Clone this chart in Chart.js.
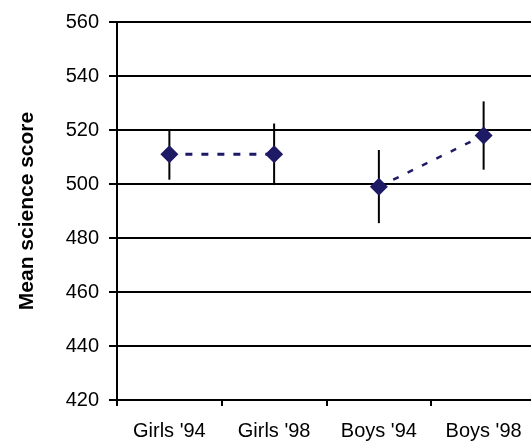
<!DOCTYPE html>
<html>
<head>
<meta charset="utf-8">
<script src="https://cdn.jsdelivr.net/npm/chart.js@4/dist/chart.umd.min.js"></script>
<style>
  html, body { margin: 0; padding: 0; background: #fff; overflow: hidden; }
  #wrap { width: 531px; height: 441px; overflow: hidden; }
  canvas { display: block; }
</style>
</head>
<body>
<div id="wrap"><canvas id="c" width="545" height="441"></canvas></div>
<script>
// Mean science scores by group and year
const categories = ["Girls '94", "Girls '98", "Boys '94", "Boys '98"];
const girlsMeans = [511, 511, null, null];
const boysMeans = [null, null, 499, 518];
// Confidence-interval ends for each group
const lowerBounds = [501.6, 499.6, 485.5, 505.3];
const upperBounds = [520, 522.4, 512.6, 530.6];
const yTicks = [420, 440, 460, 480, 500, 520, 540, 560];

const navy = '#1f1a66';
const font = "'Liberation Sans', Arial, sans-serif";

// Vertical error bars drawn under the markers
const errorBars = {
  id: 'errorBars',
  beforeDatasetsDraw(chart) {
    const { ctx, scales: { x, y } } = chart;
    ctx.save();
    ctx.strokeStyle = '#000';
    ctx.lineWidth = 2;
    categories.forEach((_, i) => {
      const px = x.getPixelForValue(i);
      ctx.beginPath();
      ctx.moveTo(px, y.getPixelForValue(lowerBounds[i]));
      ctx.lineTo(px, y.getPixelForValue(upperBounds[i]));
      ctx.stroke();
    });
    ctx.restore();
  }
};

new Chart(document.getElementById('c'), {
  type: 'line',
  data: {
    labels: categories,
    datasets: [
      {
        data: girlsMeans,
        borderColor: navy,
        backgroundColor: navy,
        borderWidth: 3,
        borderDash: [7, 9],
        pointStyle: 'rectRot',
        pointRadius: 9,
        pointBorderWidth: 0,
        spanGaps: false
      },
      {
        data: boysMeans,
        borderColor: navy,
        backgroundColor: navy,
        borderWidth: 2.5,
        borderDash: [6, 10],
        pointStyle: 'rectRot',
        pointRadius: 9,
        pointBorderWidth: 0,
        spanGaps: false
      }
    ]
  },
  options: {
    responsive: false,
    animation: false,
    layout: { padding: { top: 20, right: 4, left: 0, bottom: 0 } },
    plugins: { legend: { display: false }, tooltip: { enabled: false } },
    scales: {
      x: {
        type: 'category',
        offset: true,
        grid: {
          offset: true,
          drawOnChartArea: false,
          drawTicks: true,
          tickLength: 6,
          color: '#000',
          lineWidth: 2
        },
        border: { display: true, color: '#000', width: 2 },
        ticks: {
          color: '#000',
          font: { family: font, size: 20 },
          padding: 13,
          maxRotation: 0,
          autoSkip: false
        },
        afterFit(scale) { scale.height = 41; }
      },
      y: {
        min: 420,
        max: 560,
        afterBuildTicks(scale) { scale.ticks = yTicks.map(v => ({ value: v })); },
        grid: {
          color: '#000',
          lineWidth: 2,
          drawTicks: true,
          tickLength: 8
        },
        border: { display: true, color: '#000', width: 2 },
        ticks: {
          color: '#000',
          font: { family: font, size: 20 },
          padding: 10
        },
        title: {
          display: true,
          text: 'Mean science score',
          color: '#000',
          font: { family: font, size: 21, weight: 'bold' },
          padding: { top: 15, bottom: 0 }
        },
        afterFit(scale) { scale.width = 117; }
      }
    }
  },
  plugins: [errorBars]
});
</script>
</body>
</html>
